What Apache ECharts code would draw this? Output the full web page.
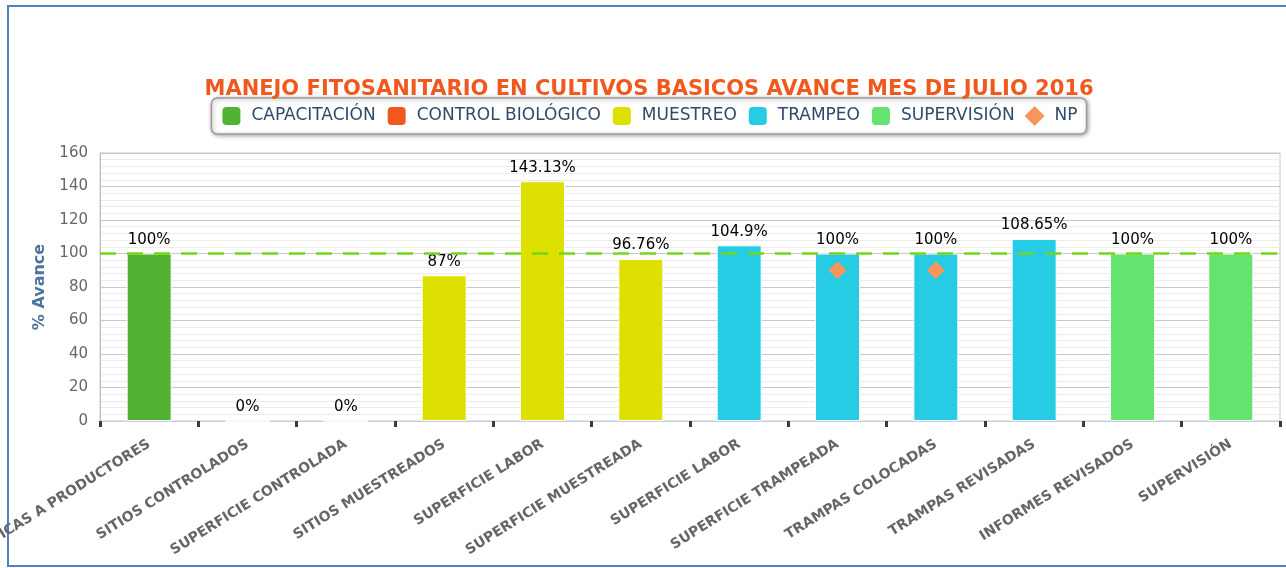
<!DOCTYPE html>
<html>
<head>
<meta charset="utf-8">
<script src="https://cdn.jsdelivr.net/npm/echarts@6/dist/echarts.min.js"></script>
<style>
html,body{margin:0;padding:0;background:#fff;overflow:hidden;width:1286px;height:568px;}
#chart{position:absolute;left:0;top:0;width:1298px;height:568px;}
#frame{position:absolute;left:7px;top:5px;width:1300px;height:558px;border:2px solid #4f81c4;pointer-events:none;}
</style>
</head>
<body>
<div id="frame"></div>
<div id="chart"></div>
<script>
const titleText = 'MANEJO FITOSANITARIO EN CULTIVOS BASICOS AVANCE MES DE JULIO 2016';
const categories = ['PLATICAS A PRODUCTORES','SITIOS CONTROLADOS','SUPERFICIE CONTROLADA','SITIOS MUESTREADOS','SUPERFICIE LABOR','SUPERFICIE MUESTREADA','SUPERFICIE LABOR','SUPERFICIE TRAMPEADA','TRAMPAS COLOCADAS','TRAMPAS REVISADAS','INFORMES REVISADOS','SUPERVISIÓN'];
const groupNames = ['CAPACITACIÓN','CONTROL BIOLÓGICO','MUESTREO','TRAMPEO','SUPERVISIÓN'];
const groupOfCategory = [0,1,1,2,2,2,3,3,3,3,4,4];
const avance = [100,0,0,87,143.13,96.76,104.9,100,100,108.65,100,100];
const npValues = ['-','-','-','-','-','-','-',90,90,'-','-','-'];
const meta = 100;
const yTicks = [0,20,40,60,80,100,120,140,160];

const groupColors = ['#52b332','#f0581e','#dde000','#26cce4','#64e46e'];
const npColor = '#f7955b';

const chart = echarts.init(document.getElementById('chart'), null, {renderer:'canvas'});

const barSeries = groupNames.map((g, gi) => ({
  name: g,
  type: 'bar',
  barWidth: 45,
  barGap: '-100%',
  z: 3,
  itemStyle: {color: groupColors[gi], borderColor: '#ffffff', borderWidth: 1},
  label: {
    show: true, position: 'top', distance: 6,
    color: '#000', fontSize: 15, fontFamily: 'DejaVu Sans',
    formatter: p => p.value + '%'
  },
  data: avance.map((v, i) => groupOfCategory[i] === gi ? v : '-')
}));

const option = {
  animation: false,
  title: {
    text: titleText,
    left: 'center', top: 74,
    textStyle: {color: '#f0581e', fontSize: 21, fontWeight: 'bold', fontFamily: 'DejaVu Sans'}
  },
  legend: {
    data: groupNames.map(n => ({name: n, icon: 'roundRect'})).concat([{name: 'NP', icon: 'diamond'}]),
    left: 'center', top: 98,
    itemWidth: 20, itemHeight: 20, itemGap: 10,
    padding: [7, 9, 7, 9],
    borderColor: '#9a9a9a', borderWidth: 1.5, borderRadius: 6,
    backgroundColor: '#fff',
    shadowColor: 'rgba(0,0,0,0.35)', shadowBlur: 4, shadowOffsetX: 1, shadowOffsetY: 1,
    textStyle: {color: '#2f4a6a', fontSize: 17, fontFamily: 'DejaVu Sans', padding: [0,0,0,5]}
  },
  grid: {left: 100, right: 18, top: 153, bottom: 147, show: true, borderColor: '#c8c8c8', borderWidth: 1,
         containLabel: false, outerBoundsMode: 'none'},
  xAxis: {
    type: 'category',
    data: categories,
    axisLine: {show: true, lineStyle: {color: '#c0d0e0', width: 1}},
    axisTick: {show: true, length: 6, lineStyle: {color: '#3a3a3a', width: 3}},
    axisLabel: {
      interval: 0, rotate: 32, margin: 22,
      color: '#666', fontSize: 14, fontWeight: 'bold', fontFamily: 'DejaVu Sans'
    }
  },
  yAxis: {
    type: 'value',
    min: yTicks[0], max: yTicks[yTicks.length - 1], interval: 20,
    name: '% Avance', nameLocation: 'middle', nameRotate: 90, nameGap: 52,
    nameTextStyle: {color: '#4d759e', fontSize: 16, fontWeight: 'bold', fontFamily: 'DejaVu Sans'},
    axisLine: {show: true, lineStyle: {color: '#c0c0c0'}},
    axisTick: {show: false},
    axisLabel: {color: '#666', fontSize: 15, fontFamily: 'DejaVu Sans', margin: 12},
    splitLine: {show: true, lineStyle: {color: '#c8c8c8', width: 1}},
    minorTick: {show: false, splitNumber: 5},
    minorSplitLine: {show: true, lineStyle: {color: '#ececec', width: 1}}
  },
  series: barSeries.concat([
    {
      name: 'meta', type: 'line', data: [], z: 1, silent: true,
      markLine: {
        silent: true, symbol: 'none', label: {show: false},
        lineStyle: {color: '#74d61a', width: 2.5, type: [16, 11], opacity: 1},
        data: [{yAxis: meta}]
      }
    },
    {
      name: 'NP', type: 'scatter', symbol: 'diamond', symbolSize: 18, z: 5,
      itemStyle: {color: npColor, opacity: 1},
      data: npValues
    }
  ])
};
chart.setOption(option);
</script>
</body>
</html>
